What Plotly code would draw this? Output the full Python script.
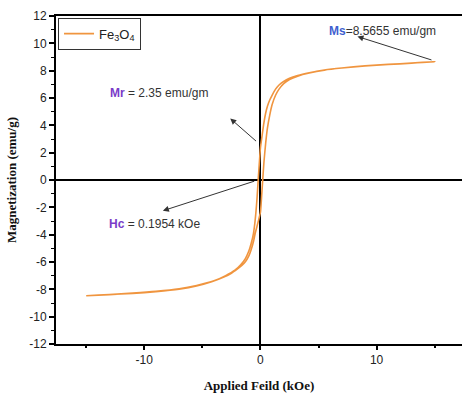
import plotly.graph_objects as go

# Descending branch (+15 -> -15)
H_desc = [15, 13, 11, 9, 7, 5.5, 4.2, 3.2, 2.5, 2.0, 1.6, 1.3, 1.0, 0.8, 0.6, 0.45, 0.3, 0.15, 0.0,
          -0.1, -0.195, -0.3, -0.45, -0.6, -0.8, -1.0, -1.3, -1.7, -2.2, -3.0, -4.0, -5.5, -7, -9,
          -11, -13, -15]
M_desc = [8.65, 8.56, 8.46, 8.35, 8.2, 8.05, 7.85, 7.65, 7.45, 7.22, 6.95, 6.65, 6.2, 5.85, 5.4, 4.9,
          4.2, 3.3, 2.35, 1.2, 0.0, -1.4, -2.9, -3.9, -4.65, -5.2, -5.75, -6.2, -6.6, -7.0, -7.38,
          -7.72, -7.96, -8.15, -8.28, -8.38, -8.47]
# Ascending branch (-15 -> +15)
H_asc = [-15, -13, -11, -9, -7, -5.5, -4.2, -3.2, -2.5, -2.0, -1.6, -1.3, -1.0, -0.8, -0.6, -0.45,
         -0.3, -0.15, 0.0, 0.1, 0.195, 0.3, 0.45, 0.6, 0.8, 1.0, 1.3, 1.6, 2.0, 2.5, 3.2, 4.2, 5.5,
         7, 9, 11, 13, 15]
M_asc = [-8.47, -8.39, -8.3, -8.17, -7.99, -7.76, -7.45, -7.12, -6.82, -6.52, -6.25, -5.98, -5.55,
         -5.1, -4.5, -3.9, -3.4, -2.9, -2.35, -1.2, 0.0, 1.3, 2.7, 3.8, 4.75, 5.5, 6.2, 6.65, 7.05,
         7.35, 7.6, 7.83, 8.04, 8.19, 8.34, 8.45, 8.55, 8.65]

x_ticks = [-10, 0, 10]
x_ticktext = ["-10", "0", "10"]
y_ticks = list(range(-12, 13, 2))
y_ticktext = [str(v) for v in y_ticks]

fig = go.Figure()
fig.add_trace(go.Scatter(
    x=H_desc + H_asc, y=M_desc + M_asc, mode="lines",
    line=dict(color="#F0953F", width=1.6, shape="spline", smoothing=0.6),
    name="Fe<sub>3</sub>O<sub>4</sub>",
))

tickfont = dict(family="Liberation Sans, Arial", size=12, color="#222")
titlefont = dict(family="Liberation Serif, Times New Roman", size=13, color="#111")

fig.update_xaxes(
    range=[-17.6, 17.35], tickvals=x_ticks, ticktext=x_ticktext, ticks="outside", ticklen=4,
    tickwidth=1.5, tickcolor="black", showline=True, linecolor="black", linewidth=2, mirror=True,
    showgrid=False, zeroline=True, zerolinecolor="black", zerolinewidth=2,
    tickfont=tickfont,
    minor=dict(tickvals=[-15, -5, 5, 15], ticks="outside", ticklen=2, tickwidth=1.5, tickcolor="black"),
    title=dict(text="<b>Applied Feild (kOe)</b>", font=titlefont, standoff=14),
)
fig.update_yaxes(
    range=[-12, 12], tickvals=y_ticks, ticktext=y_ticktext, ticks="outside", ticklen=5,
    tickwidth=1.5, tickcolor="black", showline=True, linecolor="black", linewidth=2, mirror=False,
    showgrid=False, zeroline=True, zerolinecolor="black", zerolinewidth=2,
    tickfont=tickfont,
    minor=dict(dtick=1, ticks="outside", ticklen=3, tickwidth=1.2, tickcolor="black"),
    title=dict(text="<b>Magnetization (emu/g)</b>", font=titlefont, standoff=10),
)

annfont = dict(family="Liberation Sans, Arial", size=12, color="#333")
anns = [
    dict(x=5.7, y=10.9, xanchor="left", yanchor="middle",
         text="<b><span style='color:#3F5FCF'>Ms</span></b>=8.5655 emu/gm"),
    dict(x=-13.1, y=6.4, xanchor="left", yanchor="middle",
         text="<b><span style='color:#7A3CC8'>Mr</span></b> = 2.35 emu/gm"),
    dict(x=-13.2, y=-3.2, xanchor="left", yanchor="middle",
         text="<b><span style='color:#7A3CC8'>Hc</span></b> = 0.1954 kOe"),
]
for a in anns:
    fig.add_annotation(showarrow=False, font=annfont, **a)

# arrows (head at x,y ; tail at ax,ay)
arrows = [
    dict(x=8.35, y=10.5, ax=14.85, ay=8.75),
    dict(x=-2.6, y=4.5, ax=-0.25, ay=2.75),
    dict(x=-8.4, y=-2.25, ax=-0.4, ay=-0.05),
]
for a in arrows:
    fig.add_annotation(text="", showarrow=True, arrowhead=2, arrowsize=1.2, arrowwidth=1,
                       arrowcolor="#333", axref="x", ayref="y", **a)

fig.update_layout(
    width=462, height=394,
    margin=dict(l=56, r=0, t=16, b=50),
    plot_bgcolor="white", paper_bgcolor="white",
    showlegend=True,
    legend=dict(x=0.005, y=0.995, xanchor="left", yanchor="top",
                bordercolor="#333", borderwidth=1, bgcolor="white",
                font=dict(family="Liberation Sans, Arial", size=13, color="#222"),
                itemwidth=30, tracegroupgap=0),
)

fig.write_html("out.html")
